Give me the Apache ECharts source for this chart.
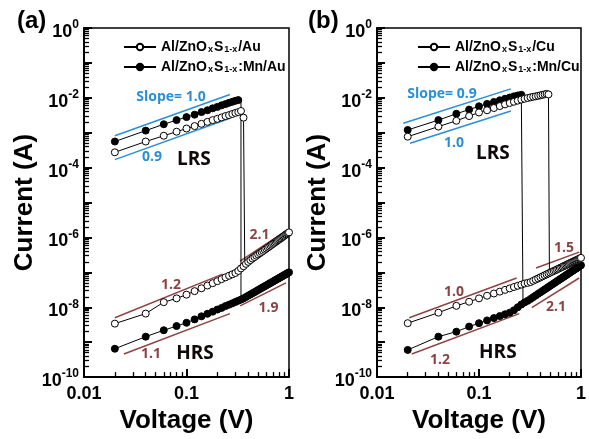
<!DOCTYPE html>
<html>
<head>
<meta charset="utf-8">
<script src="https://cdn.jsdelivr.net/npm/echarts@6.0.0/dist/echarts.min.js"></script>
<style>
  html, body { margin: 0; padding: 0; background: #fff; }
  #chart { width: 589px; height: 439px; }
</style>
</head>
<body>
<div id="chart"></div>
<script>
// voltage sweep, 0.02 V steps
const sweepV = [0.02,0.04,0.06,0.08,0.10,0.12,0.14,0.16,0.18,0.20,0.22,0.24,0.26,0.28,0.30,0.32,0.34,0.36,0.38,0.40,
  0.42,0.44,0.46,0.48,0.50,0.52,0.54,0.56,0.58,0.60,0.62,0.64,0.66,0.68,0.70,0.72,0.74,0.76,0.78,0.80,
  0.82,0.84,0.86,0.88,0.90,0.92,0.94,0.96,0.98,1.00];

// (a) Au top electrode
const lrsAuOpen = [2.75e-4,5.6e-4,8.2e-4,1.07e-3,1.32e-3,1.55e-3,1.8e-3,2.05e-3,2.3e-3,2.5e-3,2.75e-3,3.0e-3,3.2e-3,3.45e-3,3.7e-3,3.9e-3,4.2e-3,2.7e-3];
const lrsAuMn = [5.6e-4,1.15e-3,1.75e-3,2.3e-3,2.8e-3,3.3e-3,3.9e-3,4.4e-3,5.0e-3,5.5e-3,6.1e-3,6.6e-3,7.2e-3,7.7e-3,8.2e-3,8.6e-3];
const hrsAuOpen = [3.4e-9,6.6e-9,1.4e-8,1.8e-8,2.3e-8,2.9e-8,3.5e-8,4.2e-8,4.9e-8,5.6e-8,6.4e-8,7.2e-8,8.0e-8,8.8e-8,9.6e-8,1.1e-7,
  1.3e-7,1.5e-7,1.75e-7,2.0e-7,2.25e-7,2.5e-7,2.74e-7,3.0e-7,3.27e-7,3.55e-7,3.84e-7,4.14e-7,4.46e-7,4.79e-7,5.13e-7,5.48e-7,
  5.85e-7,6.23e-7,6.62e-7,7.02e-7,7.44e-7,7.87e-7,8.31e-7,8.76e-7,9.23e-7,9.6e-7,1.02e-6,1.07e-6,1.12e-6,1.19e-6,1.23e-6,1.29e-6,1.34e-6,1.40e-6];
const hrsAuMn = [6.5e-10,1.44e-9,2.2e-9,2.9e-9,3.6e-9,4.5e-9,5.5e-9,6.5e-9,7.5e-9,8.6e-9,9.6e-9,1.08e-8,1.19e-8,1.30e-8,1.42e-8,1.54e-8,1.66e-8,
  1.80e-8,1.97e-8,2.15e-8,2.33e-8,2.52e-8,2.71e-8,2.91e-8,3.12e-8,3.33e-8,3.55e-8,3.78e-8,4.0e-8,4.24e-8,4.48e-8,4.73e-8,4.98e-8,
  5.23e-8,5.49e-8,5.76e-8,6.03e-8,6.31e-8,6.59e-8,6.87e-8,7.16e-8,7.46e-8,7.76e-8,8.07e-8,8.38e-8,8.69e-8,9.01e-8,9.34e-8,9.67e-8,1.0e-7];
// reset jump: [voltage, LRS current, HRS current]
const dropAuOpen = [0.37, 2.7e-3, 2.0e-7];
const dropAuMn = [0.34, 8.6e-3, 1.66e-8];

// (b) Cu top electrode
const lrsCuOpen = [7.7e-4,1.5e-3,2.2e-3,3.0e-3,3.8e-3,4.4e-3,5.1e-3,5.8e-3,6.5e-3,7.1e-3,7.7e-3,8.3e-3,8.9e-3,9.4e-3,9.9e-3,1.03e-2,
  1.07e-2,1.1e-2,1.14e-2,1.18e-2,1.22e-2,1.26e-2,1.29e-2,1.25e-2];
const lrsCuMn = [1.2e-3,2.3e-3,3.5e-3,4.6e-3,5.7e-3,6.7e-3,7.6e-3,8.5e-3,9.4e-3,1.02e-2,1.1e-2,1.17e-2,1.22e-2];
const hrsCuOpen = [3.5e-9,7.0e-9,1.1e-8,1.44e-8,1.8e-8,2.14e-8,2.48e-8,2.81e-8,3.15e-8,3.47e-8,3.81e-8,4.13e-8,4.46e-8,4.78e-8,5.0e-8,
  5.27e-8,5.74e-8,6.22e-8,6.71e-8,7.21e-8,7.72e-8,8.24e-8,8.77e-8,9.31e-8,9.85e-8,1.04e-7,1.10e-7,1.15e-7,1.21e-7,1.27e-7,
  1.33e-7,1.39e-7,1.45e-7,1.52e-7,1.58e-7,1.64e-7,1.71e-7,1.77e-7,1.84e-7,1.90e-7,1.97e-7,2.04e-7,2.10e-7,2.17e-7,2.24e-7,
  2.31e-7,2.38e-7,2.46e-7,2.53e-7,2.60e-7];
const hrsCuMn = [6.0e-10,1.44e-9,2.0e-9,2.8e-9,3.5e-9,4.2e-9,4.9e-9,5.6e-9,6.3e-9,7.0e-9,8.2e-9,1.0e-8,1.2e-8,1.38e-8,1.53e-8,
  1.73e-8,1.95e-8,2.18e-8,2.43e-8,2.68e-8,2.95e-8,3.23e-8,3.52e-8,3.82e-8,4.14e-8,4.47e-8,4.81e-8,5.16e-8,5.53e-8,5.91e-8,
  6.3e-8,6.7e-8,7.12e-8,7.54e-8,7.98e-8,8.43e-8,8.89e-8,9.37e-8,9.86e-8,1.04e-7,1.09e-7,1.14e-7,1.19e-7,1.25e-7,1.30e-7,
  1.36e-7,1.42e-7,1.48e-7,1.54e-7,1.60e-7];
const dropCuOpen = [0.49, 1.25e-2, 1.2e-7];
const dropCuMn = [0.27, 1.22e-2, 1.6e-8];

// guide lines (slope fits), end points [V, I]; first two of each panel are LRS (blue)
const fitsA = [
  [[0.020, 8.2e-4], [0.265, 1.25e-2]],
  [[0.020, 1.7e-4], [0.265, 2.6e-3]],
  [[0.020, 5.0e-9], [0.225, 8.9e-8]],
  [[0.0245, 4.6e-10], [0.265, 6.6e-9]],
  [[0.333, 2.1e-7], [0.96, 1.63e-6]],
  [[0.333, 1.1e-8], [0.935, 5.0e-8]]
];
const fitsB = [
  [[0.0181, 1.87e-3], [0.205, 1.8e-2]],
  [[0.0211, 5.0e-4], [0.205, 4.2e-3]],
  [[0.0207, 5.0e-9], [0.234, 6.9e-8]],
  [[0.0219, 4.6e-10], [0.248, 6.6e-9]],
  [[0.362, 1.33e-7], [0.96, 3.8e-7]],
  [[0.329, 9.8e-9], [0.96, 6.9e-8]]
];
// annotation texts: [text, V, I, kind]
const notesA = [
  ['Slope= 1.0', 0.0706, 1.06e-2, 'lrs'], ['0.9', 0.046, 1.96e-4, 'lrs'], ['LRS', 0.118, 1.66e-4, 'state'],
  ['1.2', 0.0706, 4.4e-8, 'hrs'], ['1.1', 0.045, 4.5e-10, 'hrs'], ['HRS', 0.121, 4.8e-10, 'state'],
  ['2.1', 0.515, 1.15e-6, 'hrs'], ['1.9', 0.63, 9.8e-9, 'hrs']
];
const notesB = [
  ['Slope= 0.9', 0.0434, 1.25e-2, 'lrs'], ['1.0', 0.0569, 5.2e-4, 'lrs'], ['LRS', 0.137, 2.46e-4, 'state'],
  ['1.0', 0.0569, 2.8e-8, 'hrs'], ['1.2', 0.0415, 3.0e-10, 'hrs'], ['HRS', 0.153, 5.1e-10, 'state'],
  ['1.5', 0.68, 4.9e-7, 'hrs'], ['2.1', 0.569, 1.04e-8, 'hrs']
];

const namesA = ['Al/ZnOxS1-x/Au', 'Al/ZnOxS1-x:Mn/Au'];
const namesB = ['Al/ZnOxS1-x/Cu', 'Al/ZnOxS1-x:Mn/Cu'];

const yMajor = [1e-10,1e-9,1e-8,1e-7,1e-6,1e-5,1e-4,1e-3,1e-2,1e-1,1];
const yLabels = [1e-10,1e-8,1e-6,1e-4,1e-2,1];
const xMajor = [0.01, 0.1, 1];

// minor log ticks 2..9 per decade
function minors(decades) {
  const out = [];
  decades.forEach(d => { for (let k = 2; k <= 9; k++) out.push(+(k * d).toPrecision(3)); });
  return out;
}
const yMinor = minors(yMajor.slice(0, -1));
const xMinor = minors(xMajor.slice(0, -1));

const BLUE = '#2a8fd6', BROWN = '#8e4343', DARK = '#100809';

function legendText(name) {
  const rest = name.slice('Al/ZnOxS1-x'.length);
  return '{n|Al/ZnO}{s|x}{n|S}{s|1-x}{n|' + rest + '}';
}

function mainY(g) {
  return {
    type: 'log', logBase: 10, gridIndex: g, min: 1e-10, max: 1, position: 'left',
    name: 'Current (A)', nameLocation: 'middle', nameGap: 46,
    nameTextStyle: { fontSize: 26, fontWeight: 'bold', fontFamily: 'Arial', color: '#000' },
    axisLine: { show: true, lineStyle: { color: '#000', width: 2 } },
    axisTick: { show: true, inside: true, length: 8, customValues: yMajor, lineStyle: { color: '#000', width: 2 } },
    axisLabel: {
      customValues: yLabels, margin: 5, color: '#000',
      formatter: v => '{b|10}{s|' + Math.round(Math.log10(v)) + '}',
      rich: {
        b: { fontSize: 18, fontWeight: 'bold', fontFamily: 'Arial', color: '#000', padding: [8, 0, 0, 0] },
        s: { fontSize: 12, fontWeight: 'bold', fontFamily: 'Arial', color: '#000', padding: [0, 0, 6, 0] }
      }
    },
    splitLine: { show: false }
  };
}
function minorY(g) {
  return {
    type: 'log', logBase: 10, gridIndex: g, min: 1e-10, max: 1, position: 'left', offset: 0,
    axisLine: { show: false },
    axisTick: { show: true, inside: true, length: 5, customValues: yMinor, lineStyle: { color: '#000', width: 1.3 } },
    axisLabel: { show: false }, splitLine: { show: false }
  };
}
function mainX(g) {
  return {
    type: 'log', logBase: 10, gridIndex: g, min: 0.01, max: 1, position: 'bottom',
    name: 'Voltage (V)', nameLocation: 'middle', nameGap: 24,
    nameTextStyle: { fontSize: 26, fontWeight: 'bold', fontFamily: 'Arial', color: '#000', verticalAlign: 'top' },
    axisLine: { show: true, lineStyle: { color: '#000', width: 2 } },
    axisTick: { show: true, inside: true, length: 8, customValues: xMajor, lineStyle: { color: '#000', width: 2 } },
    axisLabel: {
      customValues: xMajor, margin: 8, fontSize: 18, fontWeight: 'bold', fontFamily: 'Arial', color: '#000',
      formatter: v => (v >= 1 ? '1' : v >= 0.1 ? '0.1' : '0.01')
    },
    splitLine: { show: false }
  };
}
function minorX(g) {
  return {
    type: 'log', logBase: 10, gridIndex: g, min: 0.01, max: 1, position: 'bottom', offset: 0,
    axisLine: { show: false },
    axisTick: { show: true, inside: true, length: 5, customValues: xMinor, lineStyle: { color: '#000', width: 1.3 } },
    axisLabel: { show: false }, splitLine: { show: false }
  };
}

function pairs(vals) { return vals.map((c, i) => [sweepV[i], c]); }

function curveSeries(name, g, lrs, hrs, drop, filled) {
  const itemStyle = filled
    ? { color: '#000', borderColor: '#000', borderWidth: 1 }
    : { color: '#fff', borderColor: '#000', borderWidth: 1 };
  const base = {
    type: 'line', name: name, xAxisIndex: g, yAxisIndex: g,
    symbol: 'circle', symbolSize: 7, itemStyle: itemStyle,
    lineStyle: { color: '#000', width: 1 }, animation: false, z: filled ? 3 : 4
  };
  const lrsData = pairs(lrs).concat([
    { value: [drop[0], drop[1]], symbol: 'none' },
    { value: [drop[0], drop[2]], symbol: 'none' }
  ]);
  return [
    Object.assign({}, base, { data: lrsData }),
    Object.assign({}, base, { data: pairs(hrs) })
  ];
}

function fitSeries(fits, g) {
  return fits.map((seg, i) => ({
    type: 'line', xAxisIndex: g, yAxisIndex: g, data: seg, symbol: 'none', silent: true,
    lineStyle: { color: i < 2 ? BLUE : BROWN, width: 1.5 }, animation: false, z: 2
  }));
}

function noteSeries(notes, g) {
  const styleOf = {
    lrs: { color: BLUE, fontSize: 14, fontWeight: 'bold', fontFamily: 'Open Sans' },
    hrs: { color: BROWN, fontSize: 14, fontWeight: 'bold', fontFamily: 'Open Sans' },
    state: { color: DARK, fontSize: 19, fontWeight: 'bold', fontFamily: 'Open Sans' }
  };
  return notes.map(n => ({
    type: 'scatter', xAxisIndex: g, yAxisIndex: g, symbolSize: 0, silent: true, animation: false,
    itemStyle: { opacity: 1 },
    data: [{ value: [n[1], n[2]], name: n[0] }],
    label: Object.assign({ show: true, position: 'inside', formatter: '{b}', textBorderWidth: 0, textShadowBlur: 0 }, styleOf[n[3]])
  }));
}

const legendRich = {
  n: { fontSize: 14, fontWeight: 'bold', fontFamily: 'Arial', color: '#000' },
  s: { fontSize: 9, fontWeight: 'bold', fontFamily: 'Arial', color: '#000', padding: [5, 1, 0, 1] }
};

const option = {
  backgroundColor: '#fff',
  animation: false,
  title: [
    { text: '(a)', left: 12, top: 4, textStyle: { fontSize: 24, fontWeight: 'bold', fontFamily: 'Arial', color: '#000' } },
    { text: '(b)', left: 303, top: 4, textStyle: { fontSize: 24, fontWeight: 'bold', fontFamily: 'Arial', color: '#000' } }
  ],
  grid: [
    { left: 84, top: 28, width: 205, height: 352, show: true, borderColor: '#000', borderWidth: 1.5, backgroundColor: 'transparent' },
    { left: 377, top: 28, width: 204, height: 352, show: true, borderColor: '#000', borderWidth: 1.5, backgroundColor: 'transparent' }
  ],
  legend: [
    { data: namesA, left: 118, top: 35, orient: 'vertical', itemGap: 6, itemWidth: 32, itemHeight: 8,
      formatter: legendText, textStyle: { rich: legendRich } },
    { data: namesB, left: 412, top: 35, orient: 'vertical', itemGap: 6, itemWidth: 32, itemHeight: 8,
      formatter: legendText, textStyle: { rich: legendRich } }
  ],
  xAxis: [mainX(0), mainX(1), minorX(0), minorX(1)],
  yAxis: [mainY(0), mainY(1), minorY(0), minorY(1)],
  series: [].concat(
    fitSeries(fitsA, 0),
    fitSeries(fitsB, 1),
    curveSeries(namesA[0], 0, lrsAuOpen, hrsAuOpen, dropAuOpen, false),
    curveSeries(namesA[1], 0, lrsAuMn, hrsAuMn, dropAuMn, true),
    curveSeries(namesB[0], 1, lrsCuOpen, hrsCuOpen, dropCuOpen, false),
    curveSeries(namesB[1], 1, lrsCuMn, hrsCuMn, dropCuMn, true),
    noteSeries(notesA, 0),
    noteSeries(notesB, 1)
  )
};

const chart = echarts.init(document.getElementById('chart'), null, { renderer: 'canvas' });
chart.setOption(option);
</script>
</body>
</html>
